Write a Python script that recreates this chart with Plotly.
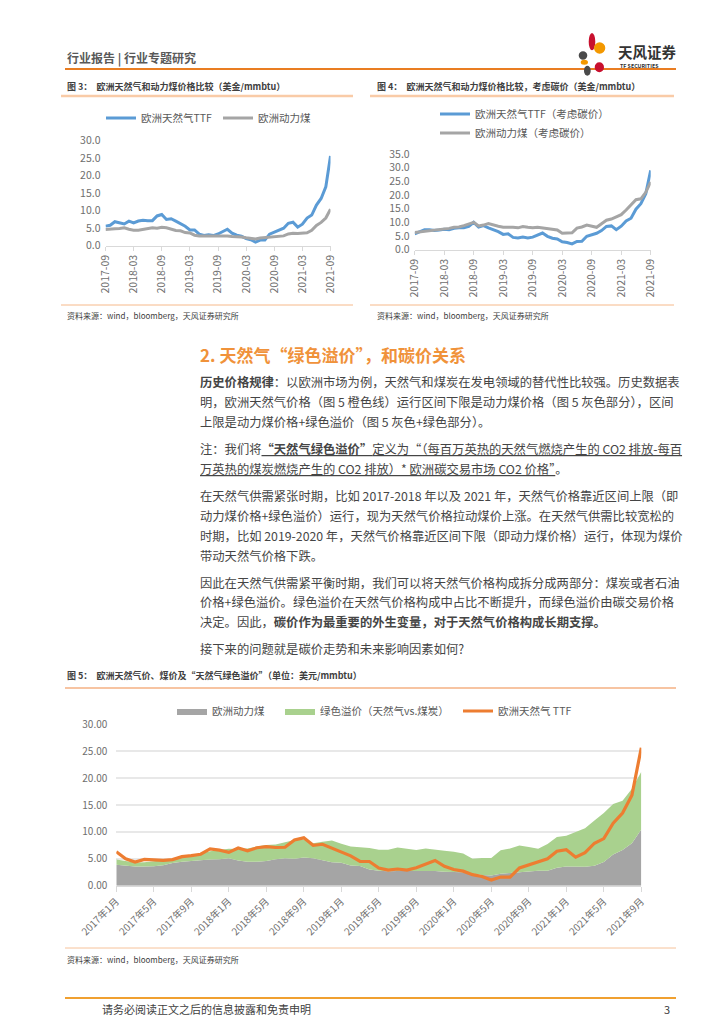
import plotly.graph_objects as go
import pandas as pd

W, H = 724, 1024
FONT = "Noto Sans CJK SC"


def px(x):
    return x / W


def py(y):
    return 1 - y / H


# ---------------- data ----------------
months5 = [f"{d.year}年{d.month}月" for d in pd.date_range("2017-01-01", "2021-09-01", freq="MS")]
months34 = [d.strftime("%Y-%m") for d in pd.date_range("2017-09-01", "2021-09-01", freq="MS")]
ticks5 = months5[::4]
ticks34 = months34[::6]

# 欧洲天然气TTF (2017-01 .. 2021-09)
ttf = [6.3, 5.0, 4.4, 4.9, 4.8, 4.7, 4.85, 5.4, 5.6, 5.85, 6.85, 6.6, 6.2, 7.0, 6.5, 7.05,
       7.25, 7.1, 7.15, 8.5, 8.9, 7.5, 7.7, 7.0, 6.25, 5.55, 4.5, 4.5, 3.3, 2.9, 3.1, 2.9,
       3.35, 4.1, 4.7, 3.6, 3.0, 2.7, 2.05, 1.7, 1.05, 1.6, 1.6, 3.3, 3.9, 4.5, 5.0, 6.4,
       6.7, 5.3, 6.15, 7.9, 8.75, 11.6, 13.5, 16.8, 25.65]
# 欧洲动力煤 (2017-01 .. 2021-09)
coal = [3.9, 3.75, 3.55, 3.55, 3.6, 3.8, 4.2, 4.45, 4.6, 4.8, 4.85, 4.9, 5.1, 4.7, 4.45, 4.45,
        4.6, 4.9, 5.1, 5.0, 5.25, 5.1, 4.7, 4.35, 4.25, 3.75, 3.65, 3.0, 2.8, 2.7, 2.75, 2.75,
        2.8, 2.85, 2.75, 2.6, 2.6, 2.5, 2.25, 2.0, 1.9, 2.2, 2.35, 2.5, 2.7, 2.8, 2.8, 3.35,
        3.55, 3.5, 3.5, 3.7, 4.4, 5.8, 6.65, 7.9, 10.45]
# 绿色溢价（天然气vs.煤炭）(2017-01 .. 2021-09)
premium = [0.95, 0.8, 0.75, 0.8, 0.9, 0.95, 0.85, 1.05, 1.15, 1.2, 1.55, 1.75, 1.75, 2.1, 2.45,
           2.85, 2.95, 2.75, 3.0, 3.5, 3.35, 2.8, 3.45, 4.05, 3.55, 3.55, 3.5, 4.0, 3.9, 4.0,
           4.35, 4.15, 3.85, 4.05, 3.9, 3.9, 3.7, 3.5, 2.75, 3.15, 3.25, 4.4, 4.55, 4.95, 4.5,
           4.05, 4.95, 5.7, 5.75, 6.45, 7.2, 8.4, 9.1, 9.4, 9.15, 10.1, 10.75]
# 考虑碳价 (2017-09 .. 2021-09)
ttf_carbon = [5.8, 6.5, 7.3, 7.3, 7.0, 7.2, 7.5, 7.3, 7.8, 8.0, 8.0, 8.5, 10.0, 8.3, 8.8, 8.0,
              7.3, 6.6, 5.6, 5.8, 4.5, 4.3, 4.6, 4.3, 4.6, 5.4, 6.1, 4.9, 4.2, 3.9, 2.9, 2.6,
              2.1, 3.0, 3.1, 4.9, 5.4, 6.0, 7.0, 8.5, 8.7, 7.3, 8.6, 10.5, 11.5, 14.8, 16.8,
              20.5, 29.0]
coal_carbon = [6.3, 6.5, 6.9, 7.1, 7.3, 7.3, 7.5, 7.8, 8.2, 8.3, 8.8, 9.4, 10.0, 8.7, 9.0, 9.6,
               9.0, 8.6, 8.2, 8.3, 8.2, 8.0, 8.5, 8.2, 8.0, 8.2, 8.0, 7.8, 7.5, 7.2, 6.0, 6.0,
               6.2, 7.9, 8.3, 9.0, 8.7, 8.2, 9.5, 10.8, 11.2, 12.0, 12.8, 14.5, 16.5, 18.3,
               18.6, 21.0, 24.8]

BLUE = "#5B9BD5"
GRAY = "#A5A5A5"
ORANGE = "#ED7D31"
GREEN = "#A9D18E"
TXT = "#404040"
TICK = "#6E6E6E"

fig = go.Figure()

# chart 3
fig.add_trace(go.Scatter(x=months34, y=ttf[8:], mode="lines", name="欧洲天然气TTF",
                         line=dict(color=BLUE, width=3), xaxis="x", yaxis="y", legend="legend2",
                         cliponaxis=False))
fig.add_trace(go.Scatter(x=months34, y=coal[8:], mode="lines", name="欧洲动力煤",
                         line=dict(color=GRAY, width=3), xaxis="x", yaxis="y", legend="legend8",
                         cliponaxis=False))
# chart 4
fig.add_trace(go.Scatter(x=months34, y=ttf_carbon, mode="lines", name="欧洲天然气TTF（考虑碳价）",
                         line=dict(color=BLUE, width=3), xaxis="x2", yaxis="y2", legend="legend3",
                         cliponaxis=False))
fig.add_trace(go.Scatter(x=months34, y=coal_carbon, mode="lines", name="欧洲动力煤（考虑碳价）",
                         line=dict(color=GRAY, width=3), xaxis="x2", yaxis="y2", legend="legend4",
                         cliponaxis=False))
# chart 5
fig.add_trace(go.Scatter(x=months5, y=coal, mode="lines", name="欧洲动力煤", stackgroup="one",
                         line=dict(width=0, color=GRAY), fillcolor=GRAY, xaxis="x3", yaxis="y3",
                         legend="legend5"))
fig.add_trace(go.Scatter(x=months5, y=premium, mode="lines", name="绿色溢价（天然气vs.煤炭）",
                         stackgroup="one", line=dict(width=0, color=GREEN), fillcolor=GREEN,
                         xaxis="x3", yaxis="y3", legend="legend6"))
fig.add_trace(go.Scatter(x=months5, y=ttf, mode="lines", name="欧洲天然气 TTF",
                         line=dict(color=ORANGE, width=3.2), xaxis="x3", yaxis="y3",
                         legend="legend7", cliponaxis=False))

tickfont = dict(family=FONT, size=10.5, color=TICK)
xcommon = dict(type="category", showline=True, linecolor="#D9D9D9", linewidth=1,
               ticks="outside", tickcolor="#D9D9D9", ticklen=4, showgrid=False,
               tickfont=tickfont, fixedrange=True, automargin=False)

fig.update_layout(
    width=W, height=H, margin=dict(l=0, r=0, t=0, b=0, autoexpand=False),
    paper_bgcolor="white", plot_bgcolor="white",
    font=dict(family=FONT, color=TXT),
    showlegend=True,
    xaxis=dict(domain=[px(97.5), px(322.5)], anchor="y", range=[0, 48],
               tickvals=ticks34, ticktext=ticks34, tickangle=-90, **xcommon),
    yaxis=dict(domain=[py(237.7), py(132.7)], anchor="x", range=[0, 30], dtick=5,
               tickformat=".1f", showgrid=False, zeroline=False, showline=False,
               tickfont=tickfont, ticklabelstandoff=4, automargin=False),
    xaxis2=dict(domain=[px(406.7), px(642.7)], anchor="y2", range=[0, 48],
                tickvals=ticks34, ticktext=ticks34, tickangle=-90, **xcommon),
    yaxis2=dict(domain=[py(241.7), py(146)], anchor="x2", range=[0, 35], dtick=5,
                tickformat=".1f", showgrid=False, zeroline=False, showline=False,
                tickfont=tickfont, ticklabelstandoff=4, automargin=False),
    xaxis3=dict(domain=[px(108.3), px(633.3)], anchor="y3", range=[0, 56],
                tickvals=ticks5, ticktext=ticks5, tickangle=-45,
                **{**xcommon, "tickfont": dict(family=FONT, size=10, color=TICK), "ticklen": 5}),
    yaxis3=dict(domain=[py(877.7), py(716.3)], anchor="x3", range=[0, 30], dtick=5,
                tickformat=".2f", showgrid=True, gridcolor="#E8E8E8", gridwidth=1.5,
                zeroline=False, showline=False, automargin=False,
                tickfont=dict(family=FONT, size=10, color=TICK), ticklabelstandoff=8),
)

legfont = dict(family=FONT, size=10.5, color="#595959")


def leg(x, y):
    return dict(x=px(x), y=py(y), xanchor="left", yanchor="middle", orientation="h",
                font=legfont, bgcolor="rgba(0,0,0,0)", borderwidth=0, itemwidth=30)


fig.update_layout(
    legend2=leg(93, 110), legend8=leg(210, 110),
    legend3=leg(427, 106), legend4=leg(427, 125),
    legend5=leg(164, 703), legend6=leg(272, 703), legend7=leg(450, 703),
)

# ---------------- text ----------------
anns = []


def ann(x, y, text, size, color=TXT, xanchor="left"):
    anns.append(dict(x=px(x), y=py(y), xref="paper", yref="paper", text=text, showarrow=False,
                     xanchor=xanchor, yanchor="middle",
                     font=dict(family=FONT, size=size, color=color)))


ann(57, 50, "<b>行业报告 | 行业专题研究</b>", 12, "#595959")
ann(608, 43, "<b>天风证券</b>", 14.5, "#333333")
ann(610, 57.5, "<b>TF SECURITIES</b>", 5.3, "#333333")

ann(57, 78, "<b>图 3：  欧洲天然气和动力煤价格比较（美金/mmbtu）</b>", 9)
ann(367, 78, "<b>图 4：  欧洲天然气和动力煤价格比较，考虑碳价（美金/mmbtu）</b>", 9)
ann(57, 307, "资料来源：wind，bloomberg，天风证券研究所", 8)
ann(367, 307, "资料来源：wind，bloomberg，天风证券研究所", 8)

ann(190, 346, "<b>2. 天然气“绿色溢价”，和碳价关系</b>", 17, "#F0923A")
BS = 12.3
BODY = "#454545"
body = [
    (374, "<b>历史价格规律</b>：以欧洲市场为例，天然气和煤炭在发电领域的替代性比较强。历史数据表"),
    (394, "明，欧洲天然气价格（图 5 橙色线）运行区间下限是动力煤价格（图 5 灰色部分），区间"),
    (414, "上限是动力煤价格+绿色溢价（图 5 灰色+绿色部分）。"),
    (441, "注：我们将<span style='text-decoration:underline'><b>“天然气绿色溢价”</b>定义为“（每百万英热的天然气燃烧产生的 CO2 排放-每百</span>"),
    (461, "<span style='text-decoration:underline'>万英热的煤炭燃烧产生的 CO2 排放）* 欧洲碳交易市场 CO2 价格”</span>。"),
    (488, "在天然气供需紧张时期，比如 2017-2018 年以及 2021 年，天然气价格靠近区间上限（即"),
    (508, "动力煤价格+绿色溢价）运行，现为天然气价格拉动煤价上涨。在天然气供需比较宽松的"),
    (528, "时期，比如 2019-2020 年，天然气价格靠近区间下限（即动力煤价格）运行，体现为煤价"),
    (548, "带动天然气价格下跌。"),
    (575, "因此在天然气供需紧平衡时期，我们可以将天然气价格构成拆分成两部分：煤炭或者石油"),
    (594, "价格+绿色溢价。绿色溢价在天然气价格构成中占比不断提升，而绿色溢价由碳交易价格"),
    (614, "决定。因此，<b>碳价作为最重要的外生变量，对于天然气价格构成长期支撑。</b>"),
    (641, "接下来的问题就是碳价走势和未来影响因素如何?"),
]
for y, t in body:
    ann(190, y, t, BS, BODY)

ann(57, 667, "<b>图 5：  欧洲天然气价、煤价及“天然气绿色溢价”（单位：美元/mmbtu）</b>", 9)
ann(57, 951, "资料来源：wind，bloomberg，天风证券研究所", 8)
ann(92, 1001, "请务必阅读正文之后的信息披露和免责申明", 11)
ann(664, 1001, "3", 11, TXT, "right")

fig.update_layout(annotations=anns)

# ---------------- decorative rules & logo ----------------
shapes = []


def hline(x0, x1, y, color, width):
    shapes.append(dict(type="line", xref="paper", yref="paper", x0=px(x0), x1=px(x1),
                       y0=py(y), y1=py(y), line=dict(color=color, width=width)))


def ell(x0, x1, y0, y1, color):
    shapes.append(dict(type="circle", xref="paper", yref="paper", x0=px(x0), x1=px(x1),
                       y0=py(y1), y1=py(y0), fillcolor=color, line=dict(width=0)))


hline(57, 668, 61, "#E97D22", 2)
hline(53, 345, 88, "#F9CBA7", 2.5)
hline(362, 666, 88, "#F9CBA7", 2.5)
hline(53, 345, 297, "#F6B98A", 1)
hline(362, 666, 297, "#F6B98A", 1)
hline(57, 668, 680, "#F4B183", 1.5)
hline(57, 668, 940, "#F6C29A", 1)
hline(57, 668, 990, "#F0A030", 2)

ell(580.7, 587.3, 25, 42.3, "#C8102E")
ell(586, 597.3, 34.3, 45.7, "#F39800")
ell(570.7, 579.3, 43.3, 51.7, "#4A4A4A")
ell(572.7, 580, 51.7, 56.7, "#F39800")
ell(576, 582.7, 57.7, 67.7, "#4A4A4A")
ell(586.7, 596, 54.3, 64.3, "#C8102E")

fig.update_layout(shapes=shapes)

fig.write_html("out.html")
